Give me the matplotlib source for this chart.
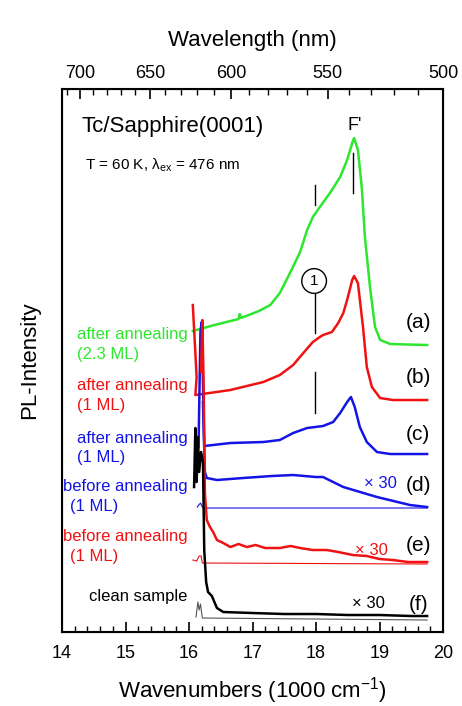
import numpy as np
import matplotlib
matplotlib.use("Agg")
import matplotlib.pyplot as plt

plt.rcParams['font.family'] = ['Liberation Sans', 'DejaVu Sans']
plt.rcParams['mathtext.fontset'] = 'custom'
plt.rcParams['mathtext.rm'] = 'Liberation Sans'
plt.rcParams['mathtext.it'] = 'Liberation Sans:italic'

GREEN = '#2ee62e'
RED = '#f01212'
BLUE = '#1414e6'

# PL spectra (x in 1000 cm^-1, intensity in arb. units incl. offsets)
a_wn = [16.06, 16.40, 16.78, 16.80, 16.82, 17.10, 17.28, 17.43, 17.59, 17.75, 17.86,
        17.95, 18.06, 18.22, 18.38, 18.49, 18.57, 18.60, 18.66, 18.72, 18.77, 18.85,
        18.93, 19.01, 19.17, 19.75]
a_int = [301, 307, 313, 318, 314, 321, 327, 339, 359, 380, 402,
         415, 425, 439, 455, 472, 489, 494, 482, 445, 395, 345,
         305, 292, 288, 287]

b_wn = [16.06, 16.12, 16.10, 16.65, 17.17, 17.43, 17.64, 17.80, 17.95, 18.06, 18.11,
        18.25, 18.35, 18.43, 18.49, 18.57, 18.60, 18.66, 18.74, 18.80, 18.88, 19.01,
        19.21, 19.75]
b_int = [327, 255, 237, 242, 250, 257, 267, 279, 290, 295, 297,
         300, 309, 319, 332, 352, 356, 349, 305, 265, 245, 234,
         232, 232]

c_wn = [16.15, 16.18, 16.20, 16.22, 16.24, 16.65, 17.17, 17.43, 17.64, 17.86, 18.11,
        18.27, 18.38, 18.49, 18.55, 18.61, 18.69, 18.80, 18.96, 19.17, 19.75]
c_int = [185, 300, 310, 250, 186, 189, 190, 192, 199, 204, 206,
         210, 219, 230, 235, 225, 205, 190, 180, 178, 178]

d_wn = [16.22, 16.25, 16.28, 16.44, 16.85, 17.30, 17.64, 18.00, 18.11, 18.43, 18.96,
        19.48, 19.75]
d_int = [230, 160, 154, 152, 154, 156, 157, 155, 155, 145, 135, 127, 125]
d_raw_wn = [16.13, 16.18, 16.22, 19.75]
d_raw_int = [125, 129, 124, 124]

e_wn = [16.19, 16.21, 16.23, 16.25, 16.28, 16.33, 16.38, 16.44, 16.54, 16.65, 16.78,
        16.91, 17.05, 17.20, 17.43, 17.60, 17.75, 17.95, 18.17, 18.35, 18.58, 18.80,
        19.00, 19.21, 19.45, 19.75]
e_int = [260, 312, 250, 139, 112, 105, 100, 92, 89, 85, 88,
         85, 87, 84, 84, 86, 84, 82, 82, 80, 77, 76,
         73, 72, 70, 70]
e_raw_wn = [16.06, 16.12, 16.16, 16.19, 16.21, 19.75]
e_raw_int = [72, 71, 76, 76, 69, 68]

f_wn = [16.08, 16.10, 16.12, 16.14, 16.16, 16.19, 16.22, 16.24, 16.27, 16.30, 16.36,
        16.40, 16.44, 16.54, 17.00, 17.50, 18.00, 18.50, 19.00, 19.50, 19.75]
f_int = [145, 204, 150, 195, 160, 180, 170, 82, 50, 40, 36,
         30, 24, 20, 19, 18, 18, 17, 17, 16, 16]
f_raw_wn = [16.11, 16.14, 16.16, 16.18, 16.21, 19.75]
f_raw_int = [15, 30, 22, 28, 14, 12]

wl_major = [700, 650, 600, 550, 500]
wl_minor = list(range(500, 720, 10))

fig = plt.figure(figsize=(4.62, 7.06), dpi=100)
ax = fig.add_axes([0.1342, 0.1048, 0.8247, 0.7691])

ax.plot(a_wn, a_int, color=GREEN, lw=1.8)
ax.plot(b_wn, b_int, color=RED, lw=1.8)
ax.plot(c_wn, c_int, color=BLUE, lw=1.8)
ax.plot(d_raw_wn, d_raw_int, color=BLUE, lw=0.8)
ax.plot(d_wn, d_int, color=BLUE, lw=1.8)
ax.plot(e_raw_wn, e_raw_int, color=RED, lw=0.8)
ax.plot(e_wn, e_int, color=RED, lw=1.8)
ax.plot(f_raw_wn, f_raw_int, color='#555555', lw=0.8)
ax.plot(f_wn, f_int, color='black', lw=1.8)

# marker lines
ax.plot([18.58, 18.58], [439, 479], color='black', lw=1)
ax.plot([17.98, 17.98], [427, 447], color='black', lw=1)
ax.plot([17.98, 17.98], [299, 338], color='black', lw=1)
ax.plot([17.98, 17.98], [219, 260], color='black', lw=1)
ax.text(17.97, 351, '1', ha='center', va='center', fontsize=11,
        bbox=dict(boxstyle='circle,pad=0.35', fc='white', ec='black', lw=1))
ax.text(18.61, 507, "F'", ha='center', va='center', fontsize=13)

ax.text(14.31, 506, 'Tc/Sapphire(0001)', ha='left', va='center', fontsize=16)
ax.text(14.36, 467, r'T = 60 K, λ$_{\rm ex}$ = 476 nm', ha='left', va='center', fontsize=11)

# sample labels
ax.text(15.98, 298, 'after annealing', color=GREEN, ha='right', va='center', fontsize=12)
ax.text(14.24, 278, '(2.3 ML)', color=GREEN, ha='left', va='center', fontsize=12)
ax.text(15.98, 247, 'after annealing', color=RED, ha='right', va='center', fontsize=12)
ax.text(14.24, 227, '(1 ML)', color=RED, ha='left', va='center', fontsize=12)
ax.text(15.98, 194, 'after annealing', color=BLUE, ha='right', va='center', fontsize=12)
ax.text(14.24, 175, '(1 ML)', color=BLUE, ha='left', va='center', fontsize=12)
ax.text(15.98, 146, 'before annealing', color=BLUE, ha='right', va='center', fontsize=12)
ax.text(14.13, 126, '(1 ML)', color=BLUE, ha='left', va='center', fontsize=12)
ax.text(15.98, 96, 'before annealing', color=RED, ha='right', va='center', fontsize=12)
ax.text(14.13, 76, '(1 ML)', color=RED, ha='left', va='center', fontsize=12)
ax.text(15.98, 36, 'clean sample', color='black', ha='right', va='center', fontsize=12)

for lab, y in zip(['(a)', '(b)', '(c)', '(d)', '(e)', '(f)'], [310, 255, 198, 147, 87, 28]):
    ax.text(19.61, y, lab, ha='center', va='center', fontsize=15)
ax.text(19.01, 149, '× 30', color=BLUE, ha='center', va='center', fontsize=12)
ax.text(18.88, 82, '× 30', color=RED, ha='center', va='center', fontsize=12)
ax.text(18.83, 29, '× 30', color='black', ha='center', va='center', fontsize=12)

ax.set_xlim(14, 20)
ax.set_ylim(0, 543)
ax.set_yticks([])
ax.set_xticks(range(14, 21))
ax.set_xticks(np.arange(14, 20.01, 0.2), minor=True)
ax.tick_params(axis='x', which='major', direction='in', length=7, width=1.2, labelsize=13, pad=9)
ax.tick_params(axis='x', which='minor', direction='in', length=4, width=1.0)
ax.set_xlabel('Wavenumbers (1000 cm$^{-1}$)', fontsize=16, labelpad=10)
ax.set_ylabel('PL-Intensity', fontsize=16, labelpad=16)
for s in ax.spines.values():
    s.set_linewidth(1.5)

ax2 = ax.twiny()
ax2.set_xlim(14, 20)
ax2.set_xticks([1e4 / w for w in wl_major])
ax2.set_xticklabels([str(w) for w in wl_major])
ax2.set_xticks([1e4 / w for w in wl_minor if w not in wl_major and 1e4 / w >= 14], minor=True)
ax2.tick_params(axis='x', which='major', direction='in', length=7, width=1.2, labelsize=13, pad=5)
ax2.tick_params(axis='x', which='minor', direction='in', length=4, width=1.0)
ax2.set_xlabel('Wavelength (nm)', fontsize=16, labelpad=14)

fig.savefig('out.png', dpi=100)
